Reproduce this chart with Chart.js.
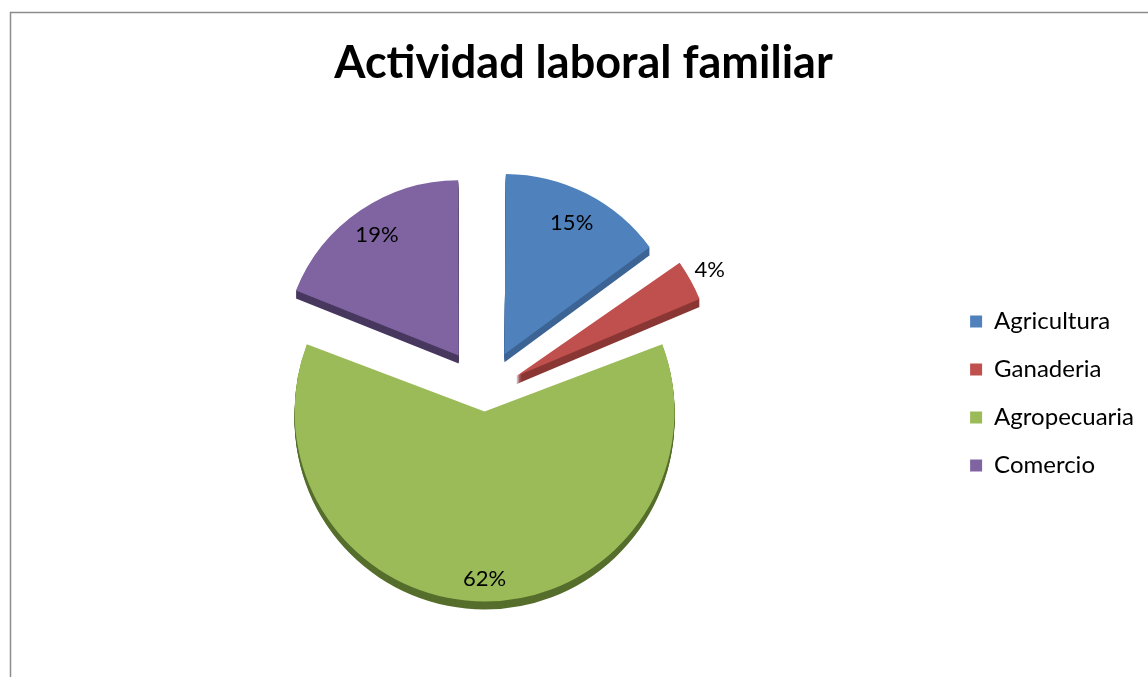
<!DOCTYPE html>
<html>
<head>
<meta charset="utf-8">
<script src="https://cdn.jsdelivr.net/npm/chart.js@4.4.1/dist/chart.umd.min.js"></script>
<style>
  html, body { margin: 0; padding: 0; background: #fff; overflow: hidden; }
</style>
</head>
<body>
<canvas id="grafico" width="1148" height="677"></canvas>
<script>
// Datos del gráfico
const categorias = ['Agricultura', 'Ganaderia', 'Agropecuaria', 'Comercio'];
const porcentajes = [15, 4, 62, 19];
const etiquetas = ['15%', '4%', '62%', '19%'];

// Estilo
const colores = ['#4f81bd', '#c0504d', '#9bbb59', '#8064a2'];
const coloresLado = ['#3c6494', '#8a3735', '#566e2c', '#48385f'];
const explosion = [176, 144, 72, 184];
const radioEtiqueta = [0.82, 1.11, 0.88, 0.83];
const PROFUNDIDAD = 8;

// geometría real de una porción desplazada (igual que ArcElement.draw)
function geometria(arc) {
  const off = (arc.options.offset || 0) / 4;
  const c = arc.endAngle - arc.startAngle;
  const fix = 1 - Math.sin(Math.min(Math.PI, c || 0));
  const mid = (arc.startAngle + arc.endAngle) / 2;
  return {
    x: arc.x + Math.cos(mid) * off,
    y: arc.y + Math.sin(mid) * off,
    r: arc.outerRadius + off * fix,
    mid: mid
  };
}

const marco = {
  id: 'marco',
  beforeDraw(chart) {
    const ctx = chart.ctx;
    ctx.save();
    ctx.strokeStyle = '#8c8c8c';
    ctx.lineWidth = 1.5;
    ctx.strokeRect(10.5, 12.5, 1400, 1000);
    ctx.restore();
  }
};

// lado 3D: la misma porción, más oscura, repetida hacia abajo
const lado3d = {
  id: 'lado3d',
  beforeDatasetsDraw(chart) {
    const ctx = chart.ctx;
    const arcs = chart.getDatasetMeta(0).data;
    const dibujar = Chart.ArcElement.prototype.draw;
    arcs.forEach((arc, i) => {
      const copia = Object.create(arc);
      copia.options = Object.assign({}, arc.options, {
        backgroundColor: coloresLado[i],
        borderWidth: 0
      });
      for (let k = PROFUNDIDAD; k >= 1; k--) {
        ctx.save();
        ctx.translate(0, k);
        dibujar.call(copia, ctx);
        ctx.restore();
      }
    });
  }
};

const rotulos = {
  id: 'rotulos',
  afterDatasetsDraw(chart) {
    const ctx = chart.ctx;
    const arcs = chart.getDatasetMeta(0).data;
    ctx.save();
    ctx.font = '22px Lato';
    ctx.fillStyle = '#000';
    ctx.textAlign = 'center';
    ctx.textBaseline = 'middle';
    arcs.forEach((arc, i) => {
      const g = geometria(arc);
      const r = g.r * radioEtiqueta[i];
      ctx.fillText(etiquetas[i], g.x + Math.cos(g.mid) * r, g.y + Math.sin(g.mid) * r);
    });
    ctx.restore();
  }
};

new Chart(document.getElementById('grafico').getContext('2d'), {
  type: 'pie',
  data: {
    labels: categorias,
    datasets: [{
      data: porcentajes,
      backgroundColor: colores,
      borderWidth: 0,
      offset: explosion
    }]
  },
  options: {
    responsive: false,
    animation: false,
    radius: 172,
    layout: { padding: { left: 23, right: 4, top: 0, bottom: 0 } },
    plugins: {
      title: {
        display: true,
        text: 'Actividad laboral familiar',
        color: '#000',
        font: { family: 'Lato', size: 45, weight: 'bold' },
        padding: { top: 36, bottom: 20 }
      },
      legend: {
        position: 'right',
        fullSize: false,
        labels: {
          boxWidth: 12,
          boxHeight: 12,
          padding: 24,
          color: '#000',
          font: { family: 'Lato', size: 24 }
        }
      },
      tooltip: { enabled: false }
    }
  },
  plugins: [marco, lado3d, rotulos]
});
</script>
</body>
</html>
